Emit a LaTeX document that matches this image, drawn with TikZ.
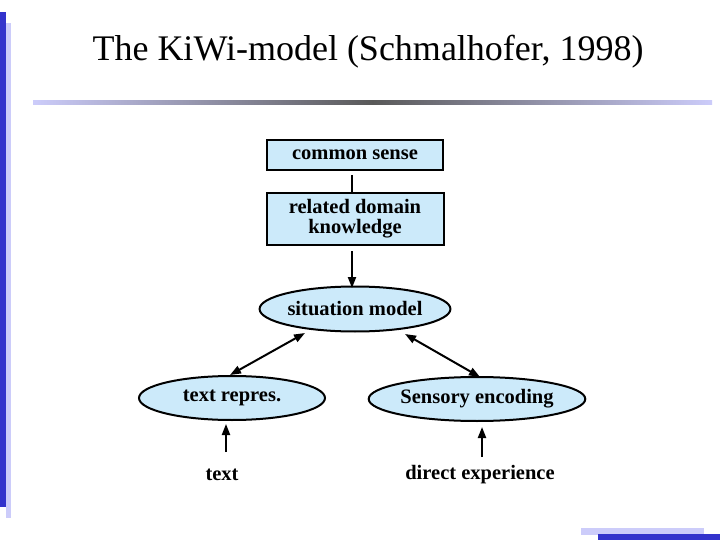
\documentclass[tikz,border=0pt]{standalone}
\usepackage{fontspec}
\setmainfont{Liberation Serif}
\usetikzlibrary{shapes.geometric,arrows.meta}
\definecolor{dblue}{RGB}{51,51,204}
\definecolor{lblue}{RGB}{204,204,250}
\definecolor{fillb}{RGB}{204,234,250}
\begin{document}
\begin{tikzpicture}[x=1pt,y=-1pt,
  box/.style={draw,line width=2pt,fill=fillb,minimum width=176pt,align=center,font=\bfseries\fontsize{20.5}{20}\selectfont,inner sep=2pt},
  ell/.style={draw,ellipse,line width=2pt,fill=fillb,font=\bfseries\fontsize{20.5}{20}\selectfont,minimum height=44pt,minimum width=186pt,inner sep=0pt},
  lab/.style={font=\bfseries\fontsize{20.5}{20}\selectfont},
  arr/.style={line width=2pt,-{Triangle[length=11pt,width=8pt]}},
  darr/.style={line width=2pt,{Triangle[length=11pt,width=8pt]}-{Triangle[length=11pt,width=8pt]}}]
\useasboundingbox (0,0) rectangle (720,540);
\fill[white] (0,0) rectangle (720,540);
\fill[dblue] (0,12) rectangle (6,507);
\fill[lblue] (6,23) rectangle (11,518);
\shade[left color=lblue,right color=lblue,middle color=black!65] (33,101) rectangle (712,105);
\fill[lblue] (581,528) rectangle (704,535);
\fill[dblue] (598,534) rectangle (720,540);
\node[font=\fontsize{36}{36}\selectfont] (title) at (368,52) {The KiWi-model (Schmalhofer, 1998)};
\node[box,minimum height=30pt] (cs) at (355,155) {common sense};
\node[box,minimum height=52pt,minimum width=177pt] (rd) at (355,219) {related domain\\knowledge};
\node[ell,minimum width=190pt,minimum height=45pt] (sm) at (355,309) {situation model};
\node[ell] (tr) at (232,398) {text repres.};
\node[ell,minimum width=188pt] (se) at (477,399) {Sensory encoding};
\node[lab] (tx) at (222,475) {text};
\node[lab] (de) at (480,475) {direct experience};
\coordinate (c1) at (352,175); \coordinate (c2) at (352,192);
\draw[line width=2pt] (c1) -- (c2);
\coordinate (r1) at (352,251); \coordinate (r2) at (352,288);
\draw[arr] (r1) -- (r2);
\coordinate (a1) at (230,375); \coordinate (a2) at (305,333);
\coordinate (b1) at (405,334); \coordinate (b2) at (480,377);
\draw[darr] (a1) -- (a2);
\draw[darr] (b1) -- (b2);
\coordinate (t1) at (226,452); \coordinate (t2) at (226,424);
\coordinate (d1) at (482,457); \coordinate (d2) at (482,427);
\draw[arr] (t1) -- (t2);
\draw[arr] (d1) -- (d2);
\end{tikzpicture}
\end{document}
